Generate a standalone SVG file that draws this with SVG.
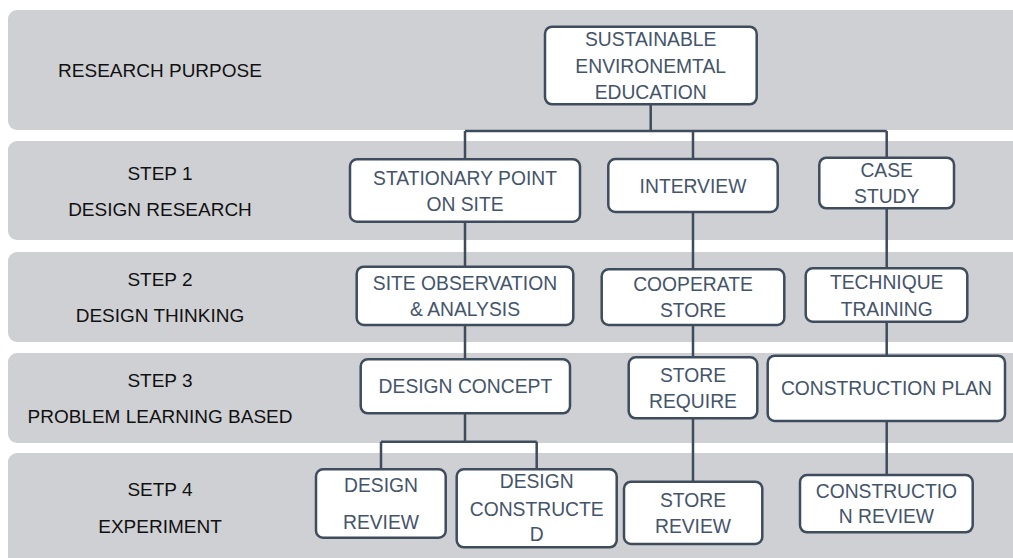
<svg xmlns="http://www.w3.org/2000/svg" width="1013" height="558" viewBox="0 0 1013 558">
<style>
.band{fill:#cfd0d4}
.lbl{font-family:"Liberation Sans",Arial,sans-serif;font-size:19px;fill:#111;text-anchor:middle}
.box{fill:#fff;stroke:#3f4c5d;stroke-width:2.5}
.t{font-family:"Liberation Sans",Arial,sans-serif;font-size:19.3px;fill:#44546a;text-anchor:middle}
.con{fill:none;stroke:#3f4c5d;stroke-width:2.5}
</style>
<rect width="1013" height="558" fill="#fff"/>
<g id="bands">
<rect class="band" x="8" y="10" width="1020" height="120" rx="9"/>
<rect class="band" x="8" y="141" width="1020" height="99" rx="9"/>
<rect class="band" x="8" y="252" width="1020" height="90" rx="9"/>
<rect class="band" x="8" y="353" width="1020" height="90" rx="9"/>
<rect class="band" x="8" y="453" width="1020" height="120" rx="9"/>
</g>
<g id="labels">
<text class="lbl" x="160" y="77">RESEARCH PURPOSE</text>
<text class="lbl" x="160" y="180">STEP 1</text>
<text class="lbl" x="160" y="216">DESIGN RESEARCH</text>
<text class="lbl" x="160" y="286">STEP 2</text>
<text class="lbl" x="160" y="322">DESIGN THINKING</text>
<text class="lbl" x="160" y="387">STEP 3</text>
<text class="lbl" x="160" y="423">PROBLEM LEARNING BASED</text>
<text class="lbl" x="160" y="496">SETP 4</text>
<text class="lbl" x="160" y="533">EXPERIMENT</text>
</g>
<g id="connectors">
<path class="con" d="M650.7,104 V131 M465,131 H886.7 M465,131 V159 M693,131 V159 M886.7,131 V158"/>
<path class="con" d="M465,222 V267 M465,325 V359 M465,413 V441.7 M381,441.7 H536.7 M381,441.7 V469 M536.7,441.7 V469"/>
<path class="con" d="M693,212 V269 M693,325 V357 M693,418 V482"/>
<path class="con" d="M886.7,208 V268 M886.7,322 V356 M886.7,421 V475"/>
</g>
<g id="n-purpose">
<rect class="box" x="545" y="26.7" width="211.7" height="77.6" rx="7"/>
<text class="t" x="650.7" y="46">SUSTAINABLE</text>
<text class="t" x="650.7" y="73">ENVIRONEMTAL</text>
<text class="t" x="650.7" y="99">EDUCATION</text>
</g>
<g id="n-stationary">
<rect class="box" x="350" y="159.3" width="230" height="62.4" rx="7"/>
<text class="t" x="465" y="185">STATIONARY POINT</text>
<text class="t" x="465" y="211">ON SITE</text>
</g>
<g id="n-interview">
<rect class="box" x="608.3" y="159" width="169.4" height="53" rx="7"/>
<text class="t" x="693" y="192.7">INTERVIEW</text>
</g>
<g id="n-case">
<rect class="box" x="819.3" y="157.7" width="134.7" height="50.6" rx="7"/>
<text class="t" x="886.7" y="177.3">CASE</text>
<text class="t" x="886.7" y="202.7">STUDY</text>
</g>
<g id="n-siteobs">
<rect class="box" x="356.7" y="266.7" width="216.6" height="58.3" rx="7"/>
<text class="t" x="465" y="290">SITE OBSERVATION</text>
<text class="t" x="465" y="316">&amp; ANALYSIS</text>
</g>
<g id="n-cooperate">
<rect class="box" x="601.7" y="269.3" width="182.6" height="55.7" rx="7"/>
<text class="t" x="693" y="291">COOPERATE</text>
<text class="t" x="693" y="316.7">STORE</text>
</g>
<g id="n-technique">
<rect class="box" x="805.7" y="268.3" width="161.6" height="53.4" rx="7"/>
<text class="t" x="886.7" y="289.3">TECHNIQUE</text>
<text class="t" x="886.7" y="316">TRAINING</text>
</g>
<g id="n-concept">
<rect class="box" x="360.7" y="359.3" width="209.3" height="54" rx="7"/>
<text class="t" x="465.4" y="393.3">DESIGN CONCEPT</text>
</g>
<g id="n-storereq">
<rect class="box" x="628.7" y="357.3" width="128.6" height="61" rx="7"/>
<text class="t" x="693" y="381.7">STORE</text>
<text class="t" x="693" y="407.7">REQUIRE</text>
</g>
<g id="n-constplan">
<rect class="box" x="767.7" y="355.7" width="237.3" height="65.3" rx="7"/>
<text class="t" x="886.4" y="395">CONSTRUCTION PLAN</text>
</g>
<g id="n-designreview">
<rect class="box" x="316" y="469.3" width="129.7" height="68.4" rx="7"/>
<text class="t" x="381" y="492.3">DESIGN</text>
<text class="t" x="381" y="529">REVIEW</text>
</g>
<g id="n-designconst">
<rect class="box" x="456.7" y="469.3" width="160" height="78" rx="7"/>
<text class="t" x="536.7" y="488.3">DESIGN</text>
<text class="t" x="536.7" y="516">CONSTRUCTE</text>
<text class="t" x="536.7" y="540.7">D</text>
</g>
<g id="n-storereview">
<rect class="box" x="624" y="481.7" width="138.3" height="62.3" rx="7"/>
<text class="t" x="693" y="506.7">STORE</text>
<text class="t" x="693" y="532.7">REVIEW</text>
</g>
<g id="n-constreview">
<rect class="box" x="800" y="475" width="172.7" height="57.3" rx="7"/>
<text class="t" x="886.4" y="497.7">CONSTRUCTIO</text>
<text class="t" x="886.4" y="523.3">N REVIEW</text>
</g>
</svg>
